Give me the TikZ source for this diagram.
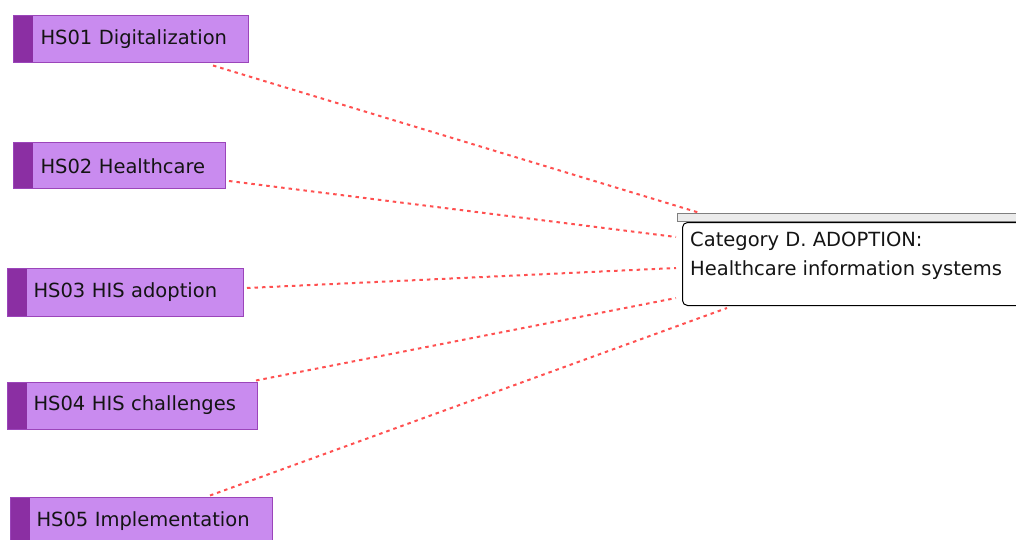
\documentclass[tikz,border=0pt]{standalone}
\usepackage{fontspec}
\setmainfont{DejaVu Sans}
\definecolor{codefill}{HTML}{C98BEF}
\definecolor{codestrip}{HTML}{8B2FA3}
\definecolor{codeedge}{HTML}{9B45BA}
\definecolor{linkred}{HTML}{FF5050}
\definecolor{tabfill}{HTML}{EBEBEB}
\definecolor{tabedge}{HTML}{7F7F7F}
\definecolor{inktext}{HTML}{141414}
\tikzset{
  codebox/.style={draw=codeedge, line width=1pt, fill=codefill,
    inner xsep=0pt, inner ysep=0pt, align=left, text=inktext,
    font=\fontsize{19.5}{24}\selectfont, anchor=west,
    path picture={\fill[codestrip] (path picture bounding box.north west)
      rectangle ([xshift=19pt]path picture bounding box.south west);}},
  catframe/.style={draw=black, line width=1pt, fill=white, rounded corners=5pt,
    anchor=north west, inner sep=0pt},
  cattab/.style={draw=tabedge, line width=1pt, fill=tabfill, anchor=south west,
    inner sep=0pt, minimum height=8pt, minimum width=343pt},
  cattext/.style={align=left, anchor=north west, inner sep=0pt, text=inktext,
    font=\fontsize{19.5}{29}\selectfont},
  link/.style={draw=linkred, line width=2pt, dash pattern=on 3.5pt off 4pt}
}
\begin{document}
\begin{tikzpicture}[x=1pt,y=1pt]
\useasboundingbox (0,0) rectangle (1016,539);

% code boxes on the left
\node[codebox, text width=235pt, minimum height=47pt] (h1) at (13,499.5) {\hspace*{27pt}HS01 Digitalization};
\node[codebox, text width=212pt, minimum height=46pt] (h2) at (13,373) {\hspace*{27pt}HS02 Healthcare};
\node[codebox, text width=236pt, minimum height=48pt] (h3) at (7,247) {\hspace*{26pt}HS03 HIS adoption};
\node[codebox, text width=250pt, minimum height=47pt] (h4) at (7,133.5) {\hspace*{26pt}HS04 HIS challenges};
\node[codebox, text width=262pt, minimum height=48pt] (h5) at (10,18) {\hspace*{26pt}HS05 Implementation};

% category box with its header tab
\node[catframe, minimum width=345pt, minimum height=83pt] (cat) at (682,317) {};
\node[cattab] (tab) at (677,317) {};
\node[cattext] (cattxt) at ([xshift=8pt,yshift=-10pt]cat.north west)
  {Category D. ADOPTION:\\Healthcare information systems};

% dotted links
\draw[link] ([xshift=200pt,yshift=-2pt]h1.south west) -- ([xshift=23pt]tab.north west);
\draw[link] ([xshift=3pt,yshift=-15pt]h2.east) -- ([xshift=-6pt,yshift=-15pt]cat.north west);
\draw[link] ([xshift=3pt,yshift=4pt]h3.east) -- ([xshift=-6pt,yshift=-46pt]cat.north west);
\draw[link] ([xshift=-2pt,yshift=1pt]h4.north east) -- ([xshift=-6pt,yshift=8pt]cat.south west);
\draw[link] ([xshift=200pt,yshift=1pt]h5.north west) -- ([xshift=45pt,yshift=-2pt]cat.south west);
\end{tikzpicture}
\end{document}
